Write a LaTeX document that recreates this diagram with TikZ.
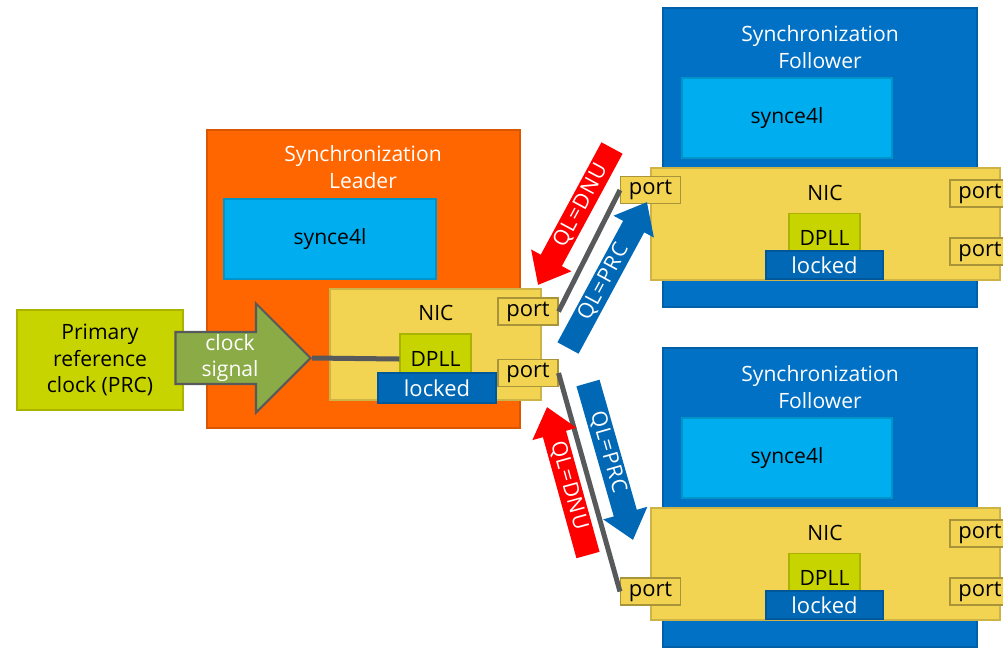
\documentclass[tikz,border=0pt]{standalone}
\usepackage{fontspec}
\setmainfont{Open Sans}
\newfontfamily\qlfont[LetterSpace=5]{Open Sans}
\usetikzlibrary{arrows.meta,shapes.arrows}
\definecolor{leadorange}{HTML}{FF6600}
\definecolor{follblue}{HTML}{0071C5}
\definecolor{swblue}{HTML}{00AEEF}
\definecolor{nicyellow}{HTML}{F2D452}
\definecolor{dpllgreen}{HTML}{C8D400}
\definecolor{lockblue}{HTML}{0068B5}
\definecolor{sigolive}{HTML}{8AAB45}
\definecolor{linkgray}{HTML}{58595B}
\definecolor{qlred}{HTML}{FF0000}
\begin{document}
\begin{tikzpicture}[x=0.02cm,y=-0.02cm,
  every node/.style={font=\fontsize{12}{15.3}\selectfont,inner sep=0pt,align=center},
  sz/.style 2 args={minimum width=#1*0.02cm,minimum height=#2*0.02cm},
  box/.style={rectangle,draw=#1!85!black,fill=#1,line width=0.6pt},
  port/.style={box=nicyellow,draw=nicyellow!70!black,sz={60}{27},font=\fontsize{12.5}{15}\selectfont},
  sigarrow/.style={single arrow,draw=linkgray,line width=1.2pt,fill=sigolive,text=white,
    minimum width=2.18cm,minimum height=2.7cm,single arrow head extend=0.55cm},
  link/.style={linkgray,line width=0.1cm},
  qlarrow/.style={line width=0.48cm,-{Triangle[length=0.56cm,width=0.88cm]}},
  ql/.style={sloped,text=white,font=\qlfont\fontsize{12}{14}\selectfont}]
\useasboundingbox (0,0) rectangle (1003,647);
\clip (0,0) rectangle (1003,647);
\node[box=dpllgreen,sz={166}{100}] (prc) at (100,360) {Primary\\reference\\clock (PRC)};
\node[box=leadorange,sz={313}{298}] (lead) at (363.5,279) {};
\node[text=white] (lead-t) at (363,167) {Synchronization\\Leader};
\node[box=swblue,sz={212}{80}] (lead-s) at (330,239) {synce4l};
\node[sigarrow,anchor=tip] (sig) at (312,358) {clock\\signal};
\node[box=nicyellow,sz={211}{111}] (lead-n) at (435.5,344.5) {};
\node (lead-nl) at (436,313) {NIC};
\node[box=dpllgreen,sz={71}{50}] (lead-d) at (435.5,359) {DPLL};
\node[box=lockblue,text=white,sz={118}{30},font=\fontsize{12.5}{15}\selectfont] (lead-k) at (437,388) {locked};
\node[port] (lead-p1) at (528,311.5) {port};
\node[port] (lead-p2) at (528,373) {port};
\draw[link] (sig.tip) -- (lead-d.west);
\foreach \f/\dy/\py in {fa/0/190,fb/340/591.5}{
  \node[box=follblue,sz={314}{299}] (\f) at (820,157.5+\dy) {};
  \node[text=white] (\f-t) at (820,47+\dy) {Synchronization\\Follower};
  \node[box=swblue,sz={210}{80}] (\f-s) at (787,118+\dy) {synce4l};
  \node[box=nicyellow,sz={349}{112}] (\f-n) at (825.5,224+\dy) {};
  \node (\f-nl) at (825,193+\dy) {NIC};
  \node[box=dpllgreen,sz={71}{49}] (\f-d) at (824.5,238+\dy) {DPLL};
  \node[box=lockblue,text=white,sz={117}{28},font=\fontsize{12.5}{15}\selectfont] (\f-k) at (824.5,265+\dy) {locked};
  \node[port] (\f-p) at (650.5,\py) {port};
  \node[port] (\f-r1) at (980,193.5+\dy) {port};
  \node[port] (\f-r2) at (980,251.5+\dy) {port};
}
\draw[link] (lead-p1.east) -- (fa-p.west);
\draw[link] (lead-p2.east) -- (fb-p.west);
\coordinate (dnu1-s) at (612,148);
\coordinate (dnu1-e) at (538,285);
\coordinate (prc1-s) at (568,348);
\coordinate (prc1-e) at (647,202);
\coordinate (prc2-s) at (588,383);
\coordinate (prc2-e) at (633,540);
\coordinate (dnu2-s) at (588,555);
\coordinate (dnu2-e) at (547,407);
\draw[qlarrow,qlred] (dnu1-s) -- (dnu1-e) node[ql,pos=0.42] {QL=DNU};
\draw[qlarrow,lockblue] (prc1-s) -- (prc1-e) node[ql,pos=0.45] {QL=PRC};
\draw[qlarrow,lockblue] (prc2-s) -- (prc2-e) node[ql,pos=0.44] {QL=PRC};
\draw[qlarrow,qlred] (dnu2-s) -- (dnu2-e) node[ql,pos=0.47] {QL=DNU};
\end{tikzpicture}
\end{document}
